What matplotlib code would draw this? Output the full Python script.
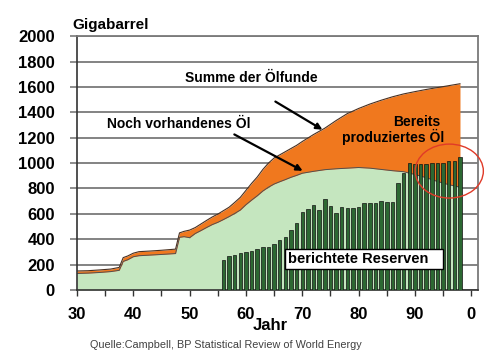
import matplotlib
matplotlib.use("Agg")
import matplotlib.pyplot as plt
from matplotlib.patches import Ellipse, Rectangle
from matplotlib.ticker import MultipleLocator, FuncFormatter

plt.rcParams["font.family"] = ["Liberation Sans", "DejaVu Sans"]

# cumulative discoveries ("Summe der Ölfunde") and remaining oil, Gigabarrel
years = [1930, 1932, 1934, 1936, 1937.5, 1938.2, 1939, 1940, 1941, 1943, 1945,
         1947.5, 1948.2, 1949, 1950, 1951, 1952, 1953, 1954, 1955, 1956, 1957,
         1958, 1959, 1960, 1961, 1962, 1963, 1964, 1965, 1966, 1967, 1968, 1969,
         1970, 1972, 1974, 1976, 1978, 1980, 1982, 1984, 1986, 1988, 1990, 1992,
         1994, 1996, 1998]
discovered = [150, 152, 158, 165, 178, 255, 268, 290, 302, 307, 313,
              322, 450, 462, 472, 492, 520, 548, 575, 598, 625, 652,
              690, 730, 785, 840, 890, 950, 1000, 1040, 1065, 1090, 1115, 1140,
              1170, 1225, 1275, 1335, 1390, 1430, 1465, 1495, 1522, 1545, 1563, 1580,
              1595, 1610, 1625]
remaining = [130, 133, 138, 145, 155, 225, 238, 262, 270, 275, 280,
             287, 415, 420, 412, 445, 468, 492, 515, 533, 555, 578,
             603, 630, 672, 708, 742, 780, 810, 835, 853, 870, 888, 903,
             920, 935, 948, 955, 960, 965, 960, 950, 940, 932, 910, 885,
             855, 830, 810]

# reported reserves, one bar per year
bar_years = list(range(1956, 1999))
reported = [236, 270, 273, 289, 302, 310, 320, 336, 341, 360,
            394, 415, 472, 525, 612, 638, 669, 632, 720, 665,
            604, 653, 643, 643, 651, 682, 682, 682, 700, 695,
            695, 840, 919, 1002, 992, 990, 990, 997, 1000, 1002,
            1018, 1018, 1045]

ORANGE = "#f0781e"
LIGHT_GREEN = "#c5e6bf"
BAR_GREEN = "#2c6832"
GRID = "#7a7a7a"

fig = plt.figure(figsize=(5.0, 3.57), dpi=100)
ax = fig.add_axes([0.154, 0.1877, 0.802, 0.711])

ax.fill_between(years, 0, remaining, color=LIGHT_GREEN, lw=0, zorder=1)
ax.fill_between(years, remaining, discovered, color=ORANGE, lw=0, zorder=1)
ax.plot(years, discovered, color="#4a3020", lw=0.8, zorder=2)
ax.plot(years, remaining, color="#505050", lw=0.7, zorder=2)
ax.bar(bar_years, reported, width=0.62, color=BAR_GREEN, edgecolor="#111111",
       lw=0.5, zorder=3)

ax.set_xlim(1930, 2001.2)
ax.set_ylim(0, 2000)
ax.yaxis.set_major_locator(MultipleLocator(200))
ax.xaxis.set_major_locator(MultipleLocator(10))
ax.xaxis.set_minor_locator(MultipleLocator(5))
ax.xaxis.set_major_formatter(FuncFormatter(lambda v, p: f"{int(v) % 100}"))
ax.grid(axis="y", color=GRID, lw=1.3, zorder=0)
ax.set_axisbelow(True)

ax.tick_params(axis="y", direction="out", length=5, width=1.2, color=GRID,
               pad=11, labelsize=12)
ax.tick_params(axis="x", which="both", direction="out", length=4, width=1.0,
               color="#333333", pad=8, labelsize=12)
for lab in ax.get_xticklabels() + ax.get_yticklabels():
    lab.set_fontweight("bold")
for side in ["top", "right"]:
    ax.spines[side].set_color(GRID)
    ax.spines[side].set_linewidth(1.3)
for side in ["left", "bottom"]:
    ax.spines[side].set_color("#333333")
    ax.spines[side].set_linewidth(1.2)

# labels and arrows
ax.text(1949.2, 1669, "Summe der Ölfunde", fontsize=10, fontweight="bold",
        ha="left", va="center")
ax.text(1935.3, 1307, "Noch vorhandenes Öl", fontsize=10, fontweight="bold",
        ha="left", va="center")
ax.text(1994.5, 1327, "Bereits", fontsize=10, fontweight="bold",
        ha="right", va="center")
ax.text(1995.2, 1205, "produziertes Öl", fontsize=10, fontweight="bold",
        ha="right", va="center")
ax.annotate("", xy=(1974.0, 1252), xytext=(1964.8, 1496),
            arrowprops=dict(arrowstyle="-|>", color="black", lw=1.6,
                            mutation_scale=9), zorder=5)
ax.annotate("", xy=(1970.5, 929), xytext=(1957.5, 1236),
            arrowprops=dict(arrowstyle="-|>", color="black", lw=1.6,
                            mutation_scale=9), zorder=5)

ax.add_patch(Rectangle((1966.9, 165), 28.1, 158, facecolor="white",
                       edgecolor="black", lw=1.0, zorder=4))
ax.text(1967.5, 244, "berichtete Reserven", fontsize=10.5, fontweight="bold",
        ha="left", va="center", zorder=5)

ax.add_patch(Ellipse((1996.1, 937), 12.1, 425, facecolor="none",
                     edgecolor="#e03a28", lw=1.0, clip_on=False, zorder=6))

fig.text(0.144, 0.9286, "Gigabarrel", fontsize=11, fontweight="bold",
         ha="left", va="center")
fig.text(0.54, 0.088, "Jahr", fontsize=12, fontweight="bold",
         ha="center", va="center")
fig.text(0.181, 0.0336, "Quelle:Campbell, BP Statistical Review of World Energy",
         fontsize=7.8, color="#404040", ha="left", va="center")

fig.savefig("out.png", dpi=100, facecolor="white")
